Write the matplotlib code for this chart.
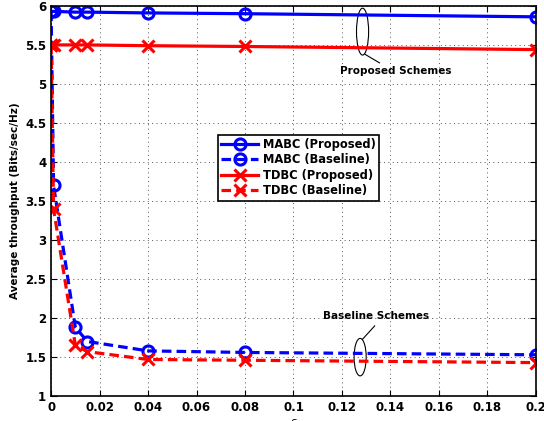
import numpy as np
import matplotlib.pyplot as plt
from matplotlib.patches import Ellipse

# data
eps = [ 0, 0.001, 0.01, 0.015, 0.04, 0.08, 0.2 ]
mabc_prop = [ 5.93, 5.93, 5.92, 5.92, 5.91, 5.90, 5.86 ]
mabc_base = [ 5.93, 3.70, 1.88, 1.70, 1.58, 1.56, 1.53 ]
tdbc_prop = [ 5.50, 5.50, 5.50, 5.50, 5.49, 5.48, 5.44 ]
tdbc_base = [ 5.50, 3.40, 1.65, 1.57, 1.47, 1.46, 1.43 ]

series = [ ( mabc_prop, 'b-', 'o', 'MABC (Proposed)' ),
           ( mabc_base, 'b--', 'o', 'MABC (Baseline)' ),
           ( tdbc_prop, 'r-', 'x', 'TDBC (Proposed)' ),
           ( tdbc_base, 'r--', 'x', 'TDBC (Baseline)' ) ]

fig = plt.figure( figsize=( 5.44, 4.21 ), dpi=100 )
ax = fig.add_axes( [ 0.094, 0.059, 0.891, 0.927 ] )

for vals, fmt, mk, lbl in series:
    ax.plot( eps, vals, fmt, marker=mk, label=lbl, lw=2.3, ms=8,
             mew=2.2, mfc='none', dashes=( 3, 1.6 ) if '--' in fmt else ( None, None ) )

ax.set_xlim( 0, 0.2 )
ax.set_ylim( 1, 6 )
ax.set_xticks( np.arange( 0, 0.201, 0.02 ) )
ax.set_xticklabels( [ '0', '0.02', '0.04', '0.06', '0.08', '0.1', '0.12', '0.14', '0.16', '0.18', '0.2' ] )
ax.set_yticks( np.arange( 1, 6.01, 0.5 ) )
ax.set_yticklabels( [ '1', '1.5', '2', '2.5', '3', '3.5', '4', '4.5', '5', '5.5', '6' ] )
ax.tick_params( direction='in', labelsize=8.5, length=4, top=True, right=True )
for t in ax.get_xticklabels() + ax.get_yticklabels():
    t.set_fontweight( 'bold' )
for s in ax.spines.values():
    s.set_linewidth( 1.2 )
ax.grid( True, ls=( 0, ( 1, 3.5 ) ), color='#555555', lw=0.7 )

ax.set_ylabel( 'Average throughput (Bits/sec/Hz)', fontsize=7.5, fontweight='bold', labelpad=4 )
ax.set_xlabel( r'$\epsilon$', fontsize=8, labelpad=2 )

leg = ax.legend( loc='upper left', bbox_to_anchor=( 0.344, 0.67 ), borderaxespad=0,
                 prop={ 'weight': 'bold', 'size': 8.3 }, fancybox=False,
                 edgecolor='black', framealpha=1, handlelength=3.2,
                 borderpad=0.3, labelspacing=0.2, handletextpad=0.4 )
leg.get_frame().set_linewidth( 1.2 )

# annotations
ax.add_patch( Ellipse( ( 0.1285, 5.67 ), 0.005, 0.60, fill=False, color='black', lw=0.8 ) )
ax.plot( [ 0.1295, 0.1355 ], [ 5.38, 5.27 ], 'k-', lw=0.8 )
ax.text( 0.142, 5.16, 'Proposed Schemes', ha='center', va='center', fontsize=7.5, fontweight='bold' )

ax.add_patch( Ellipse( ( 0.1275, 1.50 ), 0.005, 0.48, fill=False, color='black', lw=0.8 ) )
ax.plot( [ 0.1285, 0.1335 ], [ 1.73, 1.90 ], 'k-', lw=0.8 )
ax.text( 0.134, 2.03, 'Baseline Schemes', ha='center', va='center', fontsize=7.5, fontweight='bold' )

fig.savefig( 'out.png', dpi=100 )
